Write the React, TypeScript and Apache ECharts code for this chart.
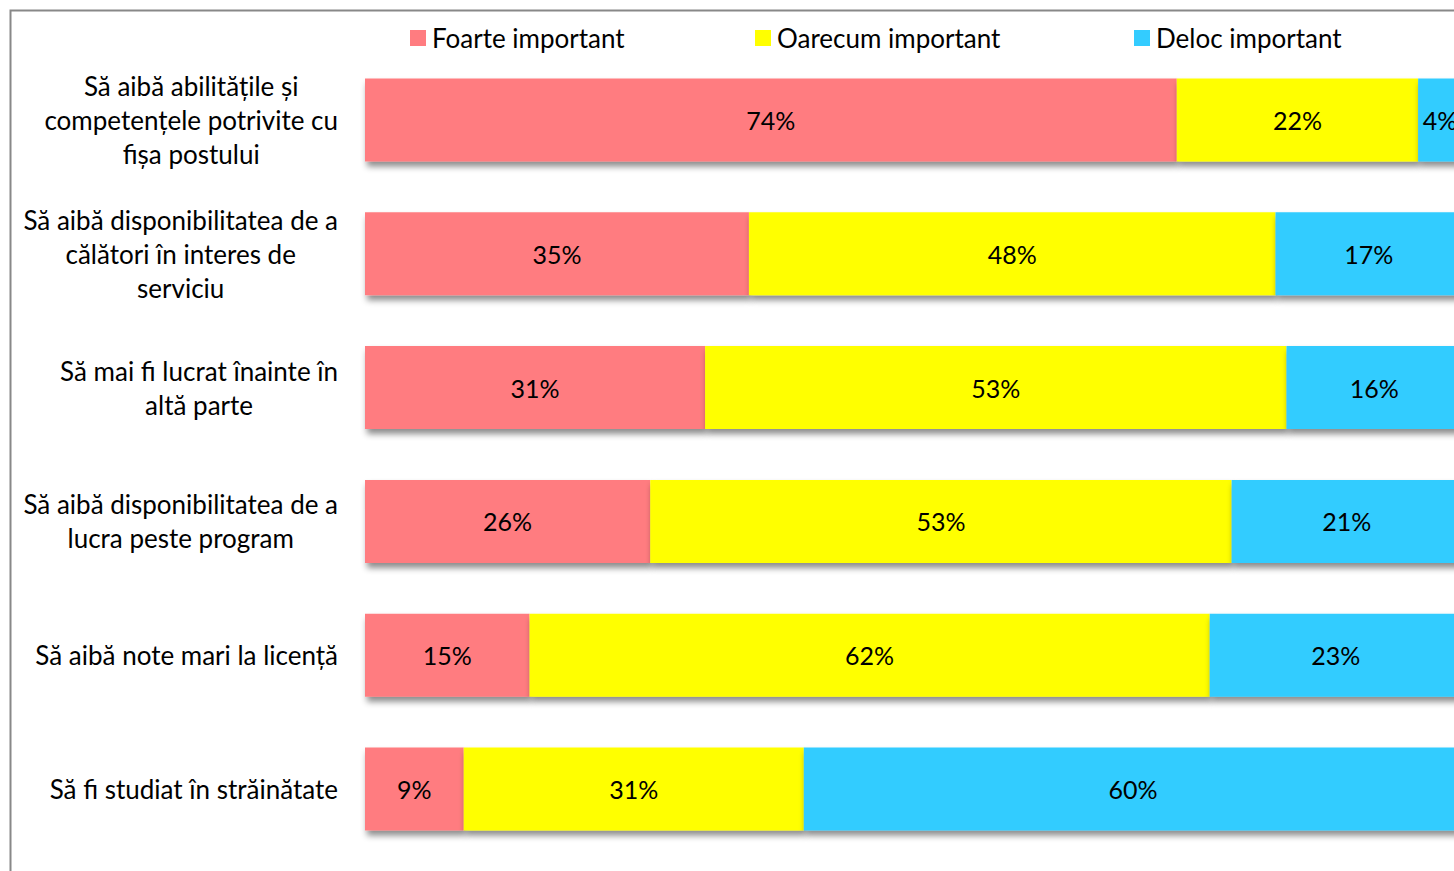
import React, { useEffect, useRef } from "react";
import * as echarts from "echarts";

const categories = [
  "Să aibă abilitățile și\ncompetențele potrivite cu\nfișa postului",
  "Să aibă disponibilitatea de a\ncălători în interes de\nserviciu",
  "Să mai fi lucrat înainte în\naltă parte",
  "Să aibă disponibilitatea de a\nlucra peste program",
  "Să aibă note mari la licență",
  "Să fi studiat în străinătate",
];
const foarte = [74, 35, 31, 26, 15, 9];
const oarecum = [22, 48, 53, 53, 62, 31];
const deloc = [4, 17, 16, 21, 23, 60];
const seriesNames = ["Foarte important", "Oarecum important", "Deloc important"];
const colors = ["#FF7C80", "#FFFF00", "#33CCFF"];
const legendLefts = [410, 755, 1134];

const FONT = "Lato";

export default function App() {
  const ref = useRef<HTMLDivElement>(null);
  useEffect(() => {
    if (!ref.current) return;
    const chart = echarts.init(ref.current, null, { renderer: "svg" });
    const values = [foarte, oarecum, deloc];
    chart.setOption({
      animation: false,
      backgroundColor: "#fff",
      textStyle: { fontFamily: FONT },
      graphic: [
        {
          type: "rect",
          shape: { x: 10.5, y: 10.5, width: 1600, height: 1000 },
          style: { fill: "none", stroke: "#888", lineWidth: 2 },
          silent: true,
        },
      ],
      legend: seriesNames.map((n, i) => ({
        data: [n],
        left: legendLefts[i],
        top: 25,
        padding: 0,
        icon: "rect",
        itemWidth: 16,
        itemHeight: 16,
        textStyle: { fontFamily: FONT, fontSize: 26, color: "#000", lineHeight: 16, padding: [0, 0, 0, 1] },
      })),
      grid: { left: 365, right: 18, top: 53, bottom: 15, containLabel: false, outerBoundsMode: "none" },
      xAxis: { type: "value", min: 0, max: 100, show: false },
      yAxis: {
        type: "category",
        inverse: true,
        data: categories,
        axisLine: { show: false },
        axisTick: { show: false },
        axisLabel: {
          margin: 27,
          formatter: (v: string) =>
            v
              .split("\n")
              .map((l) => "{c|" + l + "}")
              .join("\n"),
          rich: {
            c: { fontFamily: FONT, fontSize: 26, color: "#000", align: "center", lineHeight: 34 },
          },
        },
      },
      series: seriesNames.map((n, i) => ({
        name: n,
        type: "bar",
        stack: "total",
        barWidth: "62%",
        data: values[i],
        itemStyle: {
          color: colors[i],
          shadowColor: "rgba(0,0,0,0.45)",
          shadowBlur: 6,
          shadowOffsetX: 2,
          shadowOffsetY: 5,
        },
        label: {
          show: true,
          position: "inside",
          formatter: "{c}%",
          color: "#000",
          fontFamily: FONT,
          fontSize: 25,
        },
      })),
    });
    return () => chart.dispose();
  }, []);
  return (
    <div style={{ position: "fixed", left: 0, top: 0, width: 1454, height: 871, overflow: "hidden" }}>
      <div ref={ref} style={{ width: 1480, height: 871 }} />
    </div>
  );
}
